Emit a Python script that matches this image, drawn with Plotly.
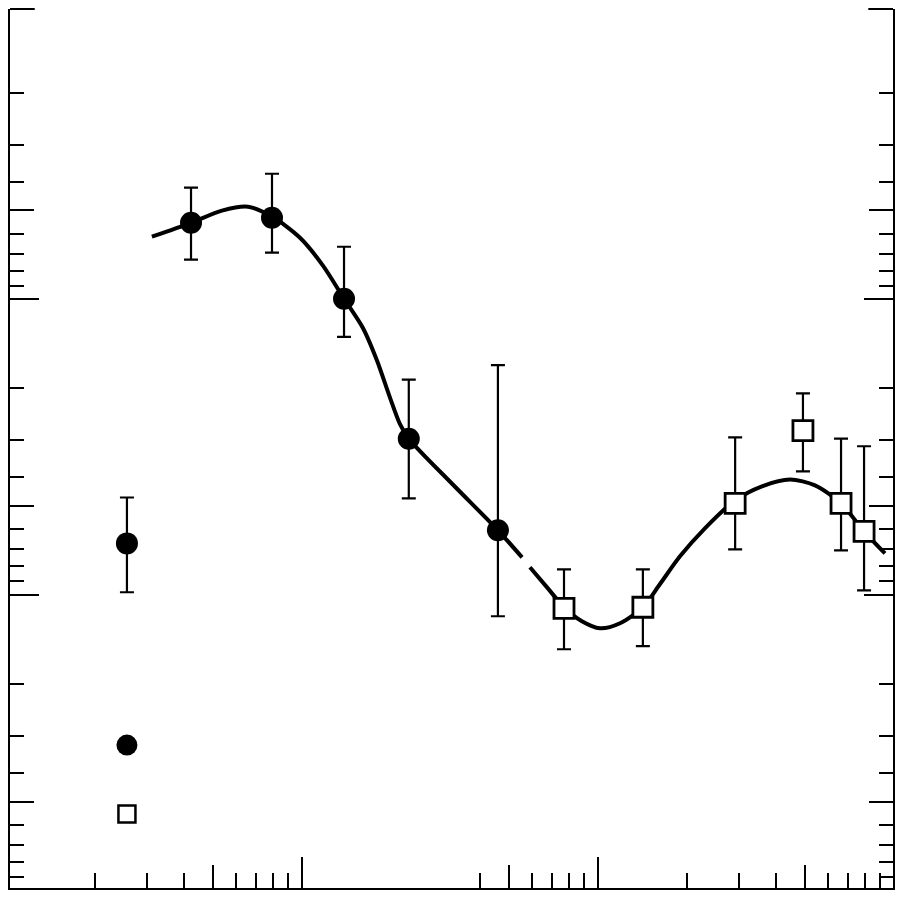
import plotly.graph_objects as go

# ---- data ----
circle_x = [2.57, 4.23, 7.94, 13.9, 23.0, 46.0]
circle_y = [66.9, 5.51, 5.30, 9.95, 29.6, 60.4]
circle_y_top = [46.8, 4.19, 3.76, 6.64, 18.7, 16.7]
circle_y_bottom = [97.9, 7.34, 6.95, 13.4, 47.1, 118.0]

square_x = [76.9, 142.0, 291.0, 493.0, 663.0, 793.0]
square_y = [110.9, 110.0, 49.0, 27.8, 49.0, 60.9]
square_y_top = [81.9, 81.9, 29.3, 20.8, 29.6, 31.4]
square_y_bottom = [152.6, 149.0, 70.1, 38.2, 70.6, 96.4]

legend_circle_x = [2.57]
legend_circle_y = [321.9]
legend_square_x = [2.57]
legend_square_y = [550.7]

curve_a_x = [3.12, 4.23, 5.38, 6.59, 7.94, 9.87, 11.8, 13.9, 16.1, 17.96, 19.87, 21.5, 23.0, 32.4, 46.0, 55.5]
curve_a_y = [6.14, 5.51, 5.01, 4.86, 5.25, 6.19, 7.69, 9.95, 12.5, 16.1, 21.5, 26.5, 29.6, 42.3, 60.4, 74.6]
curve_b_x = [59.0, 67.4, 76.9, 88.4, 101.7, 118.9, 142.0, 162.0, 189.5, 230.0, 290.7, 358.5, 445.8, 541.5, 662.8, 792.6, 933.0]
curve_b_y = [80.6, 94.2, 110.0, 122.7, 129.6, 124.6, 110.0, 92.0, 74.0, 59.5, 47.9, 42.9, 40.7, 42.6, 49.0, 60.9, 72.3]

x_major_ticks = [10, 100]
x_mid_ticks = [5, 50, 500]
x_minor_ticks = [2, 3, 4, 6, 7, 8, 9, 40, 60, 70, 80, 90, 200, 300, 400, 600, 700, 800, 900]
y_major_ticks = [10, 100]
y_mid_ticks = [5, 50, 500]
y_minor_ticks = [2, 3, 4, 6, 7, 8, 9, 20, 30, 40, 60, 70, 80, 90, 200, 300, 400, 600, 700, 800, 900]

X_RANGE = [0.015, 2.997]
Y_RANGE = [2.991, 0.018]  # reversed log axis

fig = go.Figure()

line_style = dict(color="black", width=4, shape="spline", smoothing=0.8)
fig.add_trace(go.Scatter(x=curve_a_x, y=curve_a_y, mode="lines", line=line_style,
                         showlegend=False, hoverinfo="skip"))
fig.add_trace(go.Scatter(x=curve_b_x, y=curve_b_y, mode="lines", line=line_style,
                         showlegend=False, hoverinfo="skip"))

c_plus = [b - y for b, y in zip(circle_y_bottom, circle_y)]
c_minus = [y - t for t, y in zip(circle_y_top, circle_y)]
fig.add_trace(go.Scatter(
    x=circle_x, y=circle_y, mode="markers",
    marker=dict(symbol="circle", size=22, color="black", line=dict(width=0)),
    error_y=dict(type="data", symmetric=False, array=c_plus, arrayminus=c_minus,
                 color="black", thickness=2.2, width=7),
    showlegend=False))

s_plus = [b - y for b, y in zip(square_y_bottom, square_y)]
s_minus = [y - t for t, y in zip(square_y_top, square_y)]
fig.add_trace(go.Scatter(
    x=square_x, y=square_y, mode="markers",
    marker=dict(symbol="square", size=20, color="white", line=dict(width=2.8, color="black")),
    error_y=dict(type="data", symmetric=False, array=s_plus, arrayminus=s_minus,
                 color="black", thickness=2.2, width=7),
    showlegend=False))

fig.add_trace(go.Scatter(
    x=legend_circle_x, y=legend_circle_y, mode="markers",
    marker=dict(symbol="circle", size=21, color="black", line=dict(width=0)),
    showlegend=False))
fig.add_trace(go.Scatter(
    x=legend_square_x, y=legend_square_y, mode="markers",
    marker=dict(symbol="square", size=17, color="white", line=dict(width=2.5, color="black")),
    showlegend=False))

# the page body adds an 8px margin, so the figure is sized to fit inside the window
fig.update_layout(
    width=895, height=889,
    margin=dict(l=2, r=10, t=1, b=9, autoexpand=False),
    paper_bgcolor="white", plot_bgcolor="white",
    showlegend=False,
    xaxis=dict(
        type="log", range=X_RANGE, showgrid=False, zeroline=False,
        showline=True, linecolor="black", linewidth=2, mirror=False,
        tickmode="array", tickvals=x_major_ticks, ticks="inside", ticklen=31,
        tickwidth=2, tickcolor="black", showticklabels=False,
        minor=dict(tickmode="array", tickvals=x_minor_ticks, ticks="inside",
                   ticklen=15, tickwidth=2, tickcolor="black", showgrid=False),
    ),
    xaxis2=dict(
        type="log", range=X_RANGE, overlaying="x", side="bottom", anchor="y",
        showgrid=False, zeroline=False, showline=False,
        tickmode="array", tickvals=x_mid_ticks, ticks="inside", ticklen=23,
        tickwidth=2, tickcolor="black", showticklabels=False,
    ),
    yaxis=dict(
        type="log", range=Y_RANGE, showgrid=False, zeroline=False,
        showline=True, linecolor="black", linewidth=2, mirror="ticks",
        tickmode="array", tickvals=y_major_ticks, ticks="inside", ticklen=29,
        tickwidth=2, tickcolor="black", showticklabels=False,
        minor=dict(tickmode="array", tickvals=y_minor_ticks, ticks="inside",
                   ticklen=14, tickwidth=2, tickcolor="black", showgrid=False),
    ),
    yaxis2=dict(
        type="log", range=Y_RANGE, overlaying="y", side="left", anchor="x",
        showgrid=False, zeroline=False, showline=False, mirror="ticks",
        tickmode="array", tickvals=y_mid_ticks, ticks="inside", ticklen=24,
        tickwidth=2, tickcolor="black", showticklabels=False,
    ),
)

# invisible trace to activate the overlay axes
fig.add_trace(go.Scatter(x=[10], y=[10], xaxis="x2", yaxis="y2", mode="markers",
                         marker=dict(opacity=0), showlegend=False, hoverinfo="skip"))

# top frame: only short corner stubs survive
fig.add_shape(type="line", xref="paper", yref="paper", x0=0, x1=0.028, y0=1, y1=1,
              line=dict(color="black", width=2))
fig.add_shape(type="line", xref="paper", yref="paper", x0=0.972, x1=1, y0=1, y1=1,
              line=dict(color="black", width=2))

fig.write_html("out.html")
